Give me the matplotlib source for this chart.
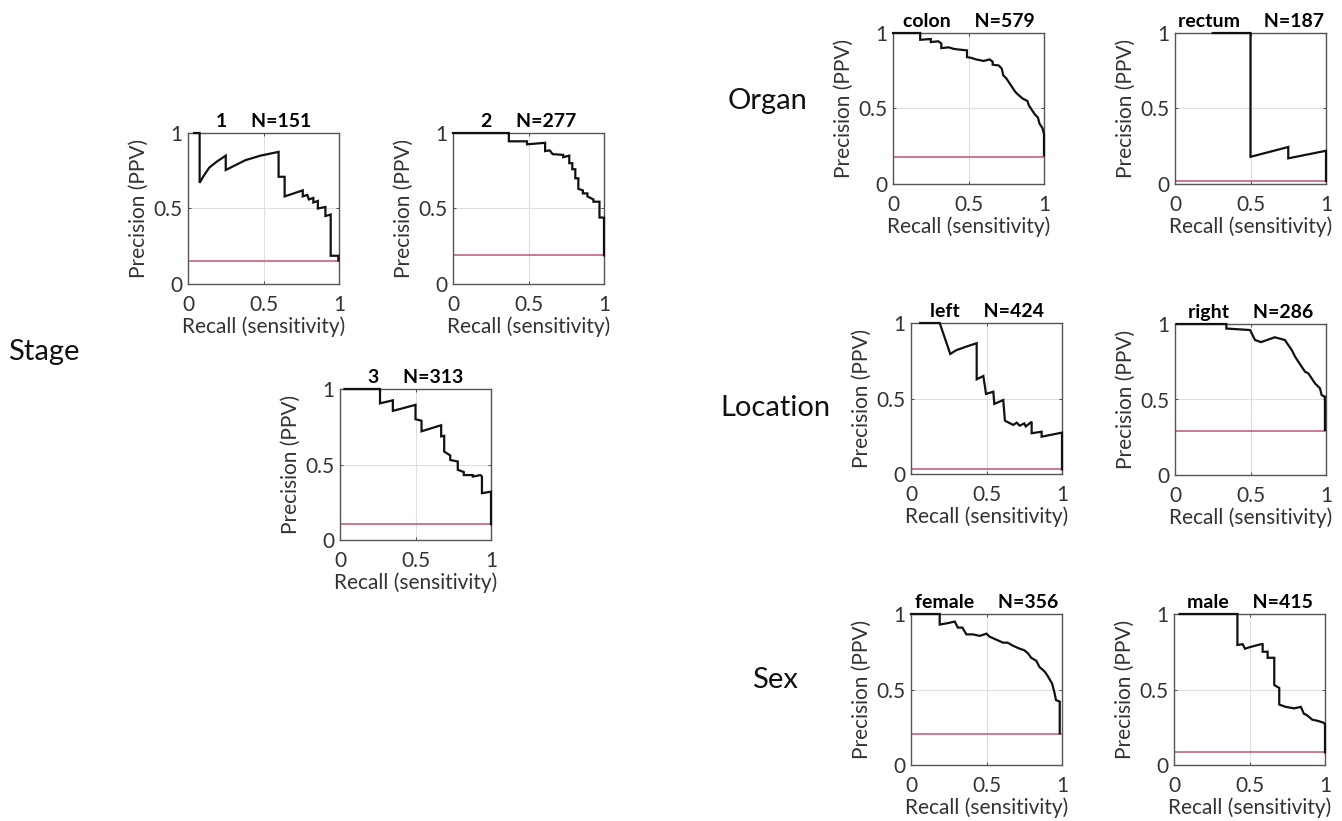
import numpy as np
import matplotlib.pyplot as plt

plt.rcParams['font.family'] = ['Lato', 'DejaVu Sans']

# ---- data ----
titles = ['1', '2', '3', 'colon', 'rectum', 'left', 'right', 'female', 'male']
counts = [151, 277, 313, 579, 187, 424, 286, 356, 415]
baselines = [0.155, 0.19, 0.104, 0.177, 0.02, 0.03, 0.29, 0.207, 0.084]

rec_1 = [0.04, 0.077, 0.077, 0.10, 0.14, 0.19, 0.25, 0.25, 0.30, 0.38, 0.48, 0.60, 0.60, 0.64,
         0.64, 0.76, 0.76, 0.79, 0.80, 0.83, 0.83, 0.86, 0.86, 0.91, 0.91, 0.945, 0.945, 0.996, 0.996]
prec_1 = [1.0, 1.0, 0.67, 0.71, 0.77, 0.81, 0.85, 0.755, 0.78, 0.82, 0.85, 0.875, 0.71, 0.71,
          0.58, 0.62, 0.58, 0.59, 0.56, 0.57, 0.54, 0.55, 0.50, 0.51, 0.45, 0.46, 0.187, 0.187, 0.155]

rec_2 = [0.0, 0.37, 0.37, 0.49, 0.49, 0.61, 0.61, 0.64, 0.66, 0.73, 0.73, 0.77, 0.77, 0.79, 0.79,
         0.81, 0.81, 0.83, 0.83, 0.86, 0.86, 0.89, 0.89, 0.93, 0.93, 0.97, 0.97, 1.0, 1.0]
prec_2 = [1.0, 1.0, 0.945, 0.945, 0.925, 0.935, 0.88, 0.885, 0.86, 0.855, 0.84, 0.85, 0.80, 0.80, 0.76,
          0.76, 0.70, 0.70, 0.63, 0.62, 0.60, 0.60, 0.58, 0.56, 0.545, 0.545, 0.44, 0.44, 0.19]

rec_3 = [0.03, 0.265, 0.265, 0.35, 0.35, 0.50, 0.50, 0.54, 0.54, 0.67, 0.67, 0.69, 0.69, 0.73,
         0.73, 0.78, 0.78, 0.82, 0.82, 0.88, 0.88, 0.93, 0.94, 0.94, 1.0, 1.0]
prec_3 = [1.0, 1.0, 0.905, 0.925, 0.855, 0.895, 0.80, 0.79, 0.72, 0.76, 0.686, 0.69, 0.586, 0.56,
          0.53, 0.52, 0.465, 0.45, 0.43, 0.43, 0.42, 0.43, 0.42, 0.31, 0.32, 0.104]

rec_colon = [0.0, 0.18, 0.18, 0.25, 0.25, 0.30, 0.32, 0.32, 0.37, 0.40, 0.44, 0.49, 0.49, 0.52, 0.55,
             0.60, 0.64, 0.66, 0.66, 0.70, 0.72, 0.73, 0.75, 0.77, 0.79, 0.81, 0.83, 0.86, 0.89,
             0.90, 0.92, 0.94, 0.96, 0.97, 0.99, 1.0, 1.0]
prec_colon = [1.0, 1.0, 0.955, 0.96, 0.94, 0.945, 0.93, 0.90, 0.905, 0.895, 0.89, 0.885, 0.84, 0.835, 0.825,
              0.815, 0.825, 0.81, 0.79, 0.785, 0.765, 0.72, 0.70, 0.67, 0.64, 0.61, 0.59, 0.565, 0.55,
              0.52, 0.49, 0.46, 0.44, 0.40, 0.37, 0.33, 0.19]

rec_rectum = [0.25, 0.5, 0.5, 0.75, 0.75, 1.0, 1.0]
prec_rectum = [1.0, 1.0, 0.18, 0.245, 0.17, 0.22, 0.02]

rec_left = [0.06, 0.19, 0.26, 0.30, 0.37, 0.435, 0.435, 0.479, 0.497, 0.545, 0.552, 0.611, 0.622,
            0.677, 0.70, 0.72, 0.75, 0.76, 0.799, 0.799, 0.865, 0.865, 1.0, 1.0]
prec_left = [1.0, 1.0, 0.795, 0.82, 0.845, 0.866, 0.627, 0.649, 0.53, 0.545, 0.464, 0.49, 0.353,
             0.325, 0.34, 0.32, 0.335, 0.315, 0.346, 0.27, 0.28, 0.247, 0.274, 0.03]

rec_right = [0.01, 0.34, 0.34, 0.497, 0.53, 0.57, 0.66, 0.728, 0.75, 0.773, 0.795, 0.817, 0.839,
             0.861, 0.883, 0.905, 0.927, 0.949, 0.96, 0.971, 0.989, 0.993, 0.993]
prec_right = [1.0, 1.0, 0.97, 0.96, 0.894, 0.88, 0.912, 0.894, 0.861, 0.828, 0.784, 0.75, 0.717,
              0.684, 0.673, 0.64, 0.607, 0.585, 0.574, 0.53, 0.519, 0.519, 0.298]

rec_female = [0.0, 0.19, 0.19, 0.246, 0.29, 0.31, 0.34, 0.367, 0.41, 0.455, 0.5, 0.52, 0.565, 0.61,
              0.64, 0.675, 0.72, 0.75, 0.774, 0.796, 0.83, 0.85, 0.884, 0.905, 0.934, 0.95, 0.96,
              0.985, 0.985]
prec_female = [1.0, 1.0, 0.93, 0.94, 0.95, 0.91, 0.91, 0.865, 0.865, 0.855, 0.87, 0.85, 0.83, 0.81,
               0.81, 0.79, 0.77, 0.76, 0.74, 0.71, 0.69, 0.65, 0.62, 0.59, 0.54, 0.48, 0.43,
               0.42, 0.21]

rec_male = [0.037, 0.42, 0.42, 0.455, 0.47, 0.5, 0.576, 0.587, 0.587, 0.62, 0.62, 0.664, 0.664,
            0.697, 0.697, 0.74, 0.796, 0.84, 0.86, 0.88, 0.916, 0.94, 0.96, 0.99, 1.0, 1.0]
prec_male = [1.0, 1.0, 0.795, 0.80, 0.77, 0.78, 0.80, 0.80, 0.75, 0.75, 0.71, 0.71, 0.53,
             0.51, 0.40, 0.385, 0.375, 0.385, 0.34, 0.33, 0.30, 0.295, 0.29, 0.28, 0.27, 0.084]

recalls = [rec_1, rec_2, rec_3, rec_colon, rec_rectum, rec_left, rec_right, rec_female, rec_male]
precisions = [prec_1, prec_2, prec_3, prec_colon, prec_rectum, prec_left, prec_right, prec_female, prec_male]

group_names = ['Stage', 'Organ', 'Location', 'Sex']

# ---- layout (pixels: left, top) ----
W, H = 1342, 821
boxes = [(188, 133), (453, 133), (340, 389), (893, 33), (1175, 33),
         (911, 323), (1175, 324), (911, 614), (1174, 614)]
box_w, box_h = 151, 151
group_pos = [(44, 352), (768, 101), (775, 408), (775, 680)]

fig = plt.figure(figsize=(W / 100, H / 100), dpi=100)

for i in range(len(titles)):
    l, t = boxes[i]
    ax = fig.add_axes([l / W, 1 - (t + box_h) / H, box_w / W, box_h / H])
    ax.plot([0, 1], [baselines[i], baselines[i]], color='#c0566e', lw=1.1, zorder=2)
    ax.plot(recalls[i], precisions[i], color='#111111', lw=1.6, solid_joinstyle='miter',
            clip_on=False, zorder=3)
    ax.set_xlim(0, 1)
    ax.set_ylim(0, 1)
    ax.set_xticks([0, 0.5, 1])
    ax.set_yticks([0, 0.5, 1])
    ax.set_xticklabels(['0', '0.5', '1'])
    ax.set_yticklabels(['0', '0.5', '1'])
    ax.grid(True, color='#dedede', lw=0.8)
    ax.set_axisbelow(True)
    ax.tick_params(direction='in', length=2, width=0.6, labelsize=15, colors='#333333',
                   pad=4, top=True, right=True)
    ax.tick_params(axis='x', pad=8)
    for s in ax.spines.values():
        s.set_color('#555555')
        s.set_linewidth(1.0)
    ax.set_xlabel('Recall (sensitivity)', fontsize=15, color='#333333', labelpad=1)
    ax.set_ylabel('Precision (PPV)', fontsize=15, color='#333333', labelpad=3)
    ax.set_title(titles[i] + '     N=' + str(counts[i]), fontsize=14, fontweight='bold',
                 pad=4)

for name, (x, y) in zip(group_names, group_pos):
    fig.text(x / W, 1 - y / H, name, fontsize=21, ha='center', va='center', color='#111111')

fig.savefig('out.png', dpi=100)
